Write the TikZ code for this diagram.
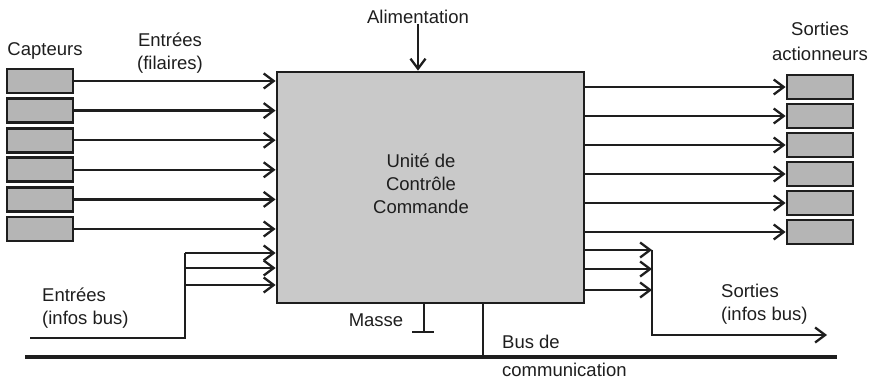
\documentclass[tikz,border=0pt]{standalone}
\usepackage{fontspec}
\setmainfont{Liberation Sans}
\usetikzlibrary{arrows.meta}

\definecolor{boxgray}{HTML}{C9C9C9}
\definecolor{iogray}{HTML}{B5B5B5}
\definecolor{ink}{HTML}{1E1E1E}

\tikzset{
  iobox/.style={draw=ink, line width=2.8pt, fill=iogray,
    minimum width=66pt, minimum height=24pt, inner sep=0pt},
  unitbox/.style={draw=ink, line width=2.8pt, fill=boxgray,
    minimum width=307pt, minimum height=231pt, inner sep=0pt},
  lbl/.style={font=\fontsize{18.5}{23}\selectfont, text=ink, inner sep=0pt, align=center},
  lbll/.style={lbl, align=left, anchor=west},
  wire/.style={draw=ink, line width=2.3pt},
  arr/.style={wire, -{Straight Barb[length=10pt, width=15pt, line width=2.3pt]}},
  bus/.style={draw=ink, line width=4.2pt}
}

\begin{document}
\begin{tikzpicture}[x=1pt, y=-1pt]
\useasboundingbox (0,0) rectangle (873,382);

% central control unit
\node[unitbox] (U) at (430.5,187.5) {};
\node[lbl] (ucc) at (421,184) {Unité de\\Contrôle\\Commande};

% sensors and wired inputs
\node[lbl] (capt) at (45,51) {Capteurs};
\node[lbl] (entf) at (170,53) {Entrées\\(filaires)};
\foreach \i [evaluate=\i as \y using 81+29.6*(\i-1)] in {1,...,6}{
  \node[iobox] (s\i) at (40,\y) {};
  \draw[arr] (s\i.east) -- (s\i.east -| U.west);
}

% actuators and wired outputs
\node[lbl, font=\fontsize{18.5}{25}\selectfont] (sact) at (820,41) {Sorties\\actionneurs};
\foreach \i [evaluate=\i as \y using 87+29*(\i-1)] in {1,...,6}{
  \node[iobox] (a\i) at (820,\y) {};
  \draw[arr] (a\i.west -| U.east) -- (a\i.west);
}

% power supply
\node[lbl] (alim) at (418,17) {Alimentation};
\draw[arr] (alim.south) -- (alim.south |- U.north);

% inputs coming from the bus
\node[lbll] (eib) at (42,308) {Entrées\\(infos bus)};
\coordinate (bl) at (30,338);
\coordinate (bj1) at (185,253);
\coordinate (bj2) at (185,268);
\coordinate (bj3) at (185,285);
\draw[wire] (bl) -| (bj1);
\foreach \j in {1,2,3}{
  \draw[arr] (bj\j) -- (bj\j -| U.west);
}

% outputs sent to the bus
\node[lbll] (sib) at (721,304) {Sorties\\(infos bus)};
\coordinate (oj1) at (652,250);
\coordinate (oj2) at (652,269);
\coordinate (oj3) at (652,290);
\coordinate (bo) at (827,335);
\foreach \j in {1,2,3}{
  \draw[arr] (oj\j -| U.east) -- (oj\j);
}
\draw[arr] (oj1) |- (bo);

% ground
\node[lbl] (masse) at (376,320) {Masse};
\coordinate (gnd) at (424,332);
\draw[wire] (gnd |- U.south) -- (gnd);
\draw[wire] ([xshift=-12pt]gnd) -- ([xshift=10pt]gnd);

% communication bus
\coordinate (busL) at (25,357);
\coordinate (busR) at (837,357);
\coordinate (busT) at (483,357);
\draw[bus] (busL) -- (busR);
\draw[wire] (busT |- U.south) -- (busT);
\node[lbll] (busde) at (502,342) {Bus de};
\node[lbll] (comm) at (502,370) {communication};
\end{tikzpicture}
\end{document}
